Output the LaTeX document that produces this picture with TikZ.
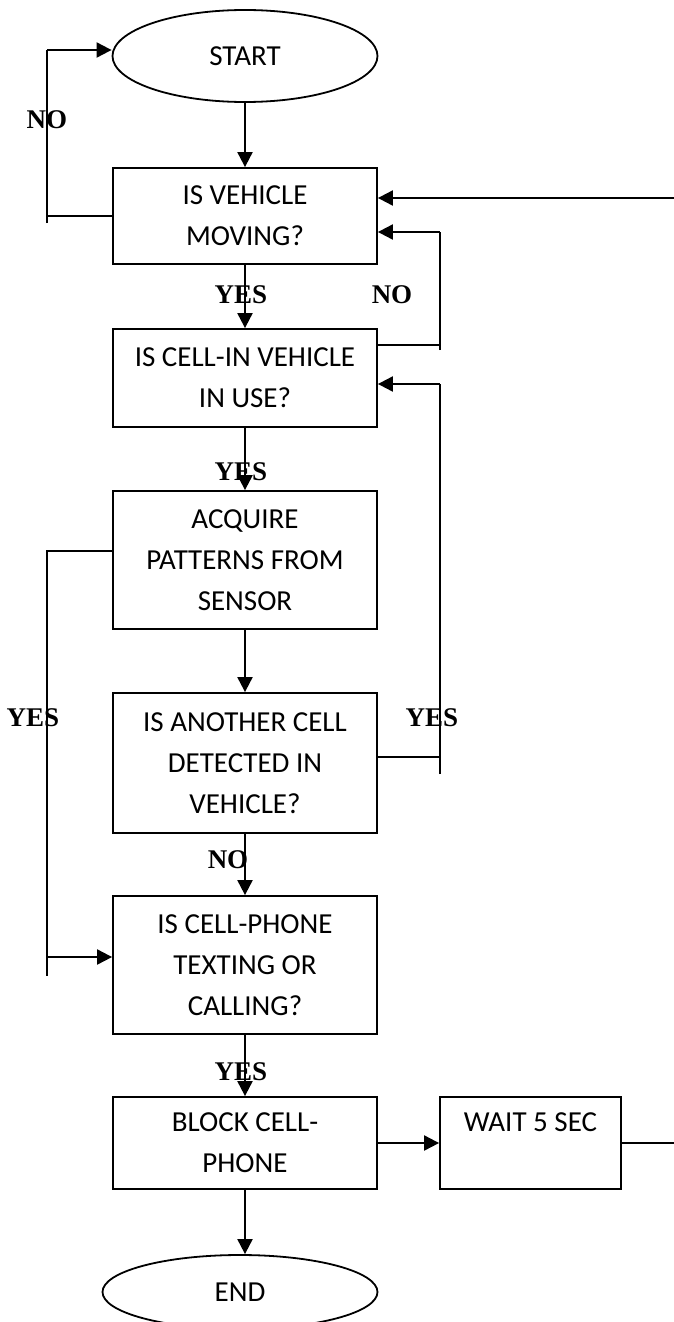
\documentclass[tikz,border=0pt]{standalone}
\usepackage{fontspec}
\setmainfont{Carlito}
\newfontfamily\lblfont{Liberation Serif}
\usetikzlibrary{shapes.geometric,arrows.meta}
\begin{document}
\begin{tikzpicture}[x=1pt,y=-1pt,
  line/.style={line width=2pt},
  arr/.style={line width=2pt,-{Triangle[length=15pt,width=15pt]}},
  box/.style={draw,line width=1.8pt,minimum width=264pt,inner sep=0pt,align=center,font=\fontsize{29}{41}\selectfont},
  oval/.style={draw,ellipse,line width=1.8pt,inner sep=0pt,font=\fontsize{29}{41}\selectfont},
  lbl/.style={inner sep=0pt,font=\lblfont\bfseries\fontsize{27}{30}\selectfont}]
\useasboundingbox (0,0) rectangle (674,1322);
\fill[white] (0,0) rectangle (674,1322);

% nodes
\node[oval,minimum width=265pt,minimum height=92pt] (start) at (245,56) {START};
\node[box,minimum height=96pt] (b1) at (245,216) {IS VEHICLE\\MOVING?};
\node[box,minimum height=98pt] (b2) at (245,378) {IS CELL-IN VEHICLE\\IN USE?};
\node[box,minimum height=138pt] (b3) at (245,560) {ACQUIRE\\PATTERNS FROM\\SENSOR};
\node[box,minimum height=140pt] (b4) at (245,763) {IS ANOTHER CELL\\DETECTED IN\\VEHICLE?};
\node[box,minimum height=138pt] (b5) at (245,965) {IS CELL-PHONE\\TEXTING OR\\CALLING?};
\node[box,minimum height=92pt] (b6) at (245,1143) {BLOCK CELL-\\PHONE};
\node[box,minimum width=181pt,minimum height=92pt] (b7) at (530.5,1143) {WAIT 5 SEC\\\phantom{W}};
\node[oval,minimum width=275pt,minimum height=74pt] (end) at (240,1292) {END};

% labels
\node[lbl] (lno1) at (47,120) {NO};
\node[lbl] (lyes1) at (241,295) {YES};
\node[lbl] (lno2) at (392,295) {NO};
\node[lbl] (lyes2) at (241,472) {YES};
\node[lbl] (lyes3) at (33,718) {YES};
\node[lbl] (lyes4) at (432,718) {YES};
\node[lbl] (lno3) at (228,860) {NO};
\node[lbl] (lyes5) at (241,1072) {YES};

% main column
\draw[arr] (start.south) -- (b1.north);
\draw[arr] (b1.south) -- (b2.north);
\draw[arr] (b2.south) -- (b3.north);
\draw[arr] (b3.south) -- (b4.north);
\draw[arr] (b4.south) -- (b5.north);
\draw[arr] (b5.south) -- (b6.north);
\draw[arr] (b6.south) -- (b6.south |- end.north);
\draw[arr] (b6.east) -- (b7.west);

% loop: vehicle not moving -> start
\coordinate (L1mid) at (47,216);
\coordinate (L1bot) at (47,223);
\coordinate (L1top) at (47,50);
\draw[line] (b1.west) -- (L1mid);
\draw[line] (L1bot) -- (L1top);
\draw[arr] (L1top) -- (L1top -| start.west);

% loop: cell not in use -> b1
\coordinate (RA1) at (440,345);
\coordinate (RA2) at (440,350);
\coordinate (RA3) at (440,232);
\draw[line] (b2.east |- RA1) -- (RA1);
\draw[line] (RA2) -- (RA3);
\draw[arr] (RA3) -- (RA3 -| b1.east);

% loop: another cell detected -> b2
\coordinate (RB1) at (440,757);
\coordinate (RB2) at (440,774);
\coordinate (RB3) at (440,384);
\draw[line] (b4.east |- RB1) -- (RB1);
\draw[line] (RB2) -- (RB3);
\draw[arr] (RB3) -- (RB3 -| b2.east);

% loop: acquire -> b5
\coordinate (LC1) at (47,551);
\coordinate (LC2) at (47,976);
\coordinate (LC3) at (47,957);
\draw[line] (b3.west |- LC1) -- (LC1) -- (LC2);
\draw[arr] (LC3) -- (LC3 -| b5.west);

% wait -> back to b1 (off-page)
\coordinate (E1) at (674,1143);
\coordinate (E2) at (674,198);
\draw[line] (b7.east) -- (E1);
\draw[arr] (E2) -- (E2 -| b1.east);
\end{tikzpicture}
\end{document}
